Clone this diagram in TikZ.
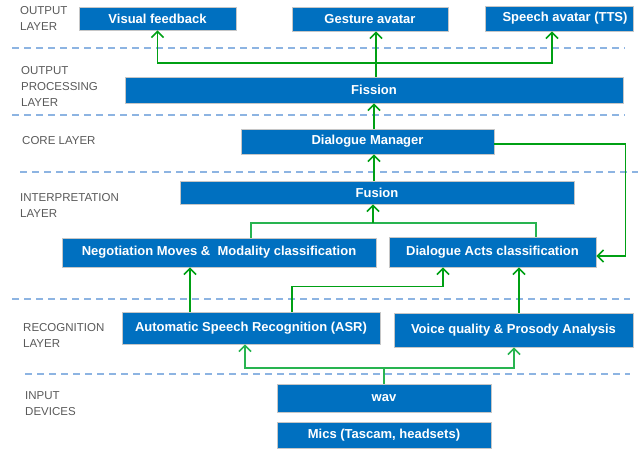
\documentclass[tikz,border=0pt]{standalone}
\usepackage{fontspec}
\setmainfont{Liberation Sans}
\usepackage{tikz}
\usetikzlibrary{arrows.meta}
\usetikzlibrary{calc}
\usepackage{xcolor}
\definecolor{boxblue}{RGB}{0,112,192}
\definecolor{flowgreen}{RGB}{0,160,20}
\definecolor{busgreen}{RGB}{40,180,80}
\definecolor{dashblue}{RGB}{141,180,226}
\definecolor{labelgray}{RGB}{89,89,89}

\begin{document}
\begin{tikzpicture}[x=1pt,y=-1pt,
  block/.style={fill=boxblue,draw=gray!45,line width=0.8pt,text=white,inner sep=0pt,
    font=\fontsize{13}{15}\selectfont\bfseries},
  layerlabel/.style={anchor=west,align=left,text=labelgray,inner sep=0pt,
    font=\fontsize{11.5}{16}\selectfont},
  divider/.style={draw=dashblue,line width=2pt,dash pattern=on 7pt off 5pt},
  flow/.style={draw=flowgreen,line width=1.6pt,-{Straight Barb[length=6pt,width=12pt]}},
  bus/.style={draw=busgreen,line width=1.6pt}]
\useasboundingbox (0,0) rectangle (638,449);

% layer names
\node[layerlabel] (lout) at (20,18) {OUTPUT\\LAYER};
\node[layerlabel] (lproc) at (21,86) {OUTPUT\\PROCESSING\\LAYER};
\node[layerlabel] (lcore) at (22,141) {CORE LAYER};
\node[layerlabel] (linter) at (20,205) {INTERPRETATION\\LAYER};
\node[layerlabel] (lrec) at (23,335) {RECOGNITION\\LAYER};
\node[layerlabel] (lin) at (25,404) {INPUT\\DEVICES};

% layer borders
\draw[divider] (12,48) -- (625,48);
\draw[divider] (12,115) -- (625,115);
\draw[divider] (20,172) -- (638,172);
\draw[divider] (12,299) -- (630,299);
\draw[divider] (25,374) -- (630,374);

% blocks
\node[block,minimum width=157pt,minimum height=23pt] (vis) at (157.5,18.5) {Visual feedback};
\node[block,minimum width=156pt,minimum height=24pt] (gest) at (370,19) {Gesture avatar};
\node[block,minimum width=148pt,minimum height=25pt] (tts) at (559,18.5) {\hspace*{12pt}Speech avatar (TTS)};
\node[block,minimum width=498pt,minimum height=26pt] (fis) at (374,90) {Fission};
\node[block,minimum width=253pt,minimum height=25pt] (dm) at (367.5,141.5) {Dialogue Manager};
\node[block,minimum width=394pt,minimum height=23pt] (fus) at (377,192.5) {Fusion};
\node[block,minimum width=314pt,minimum height=29pt] (neg) at (219,252.5) {Negotiation Moves \&\ \ Modality classification};
\node[block,minimum width=207pt,minimum height=30pt] (dac) at (492.5,252) {Dialogue Acts classification};
\node[block,minimum width=258pt,minimum height=32pt] (asr) at (251,328) {Automatic Speech Recognition (ASR)};
\node[block,minimum width=239pt,minimum height=34pt] (vqp) at (513.5,330) {Voice quality \& Prosody Analysis};
\node[block,minimum width=214pt,minimum height=28pt] (wav) at (384,398) {wav};
\node[block,minimum width=214pt,minimum height=26pt] (mics) at (384,435) {Mics (Tascam, headsets)};

% output
\coordinate (outsplit) at (376,63);
\draw[flow] (fis.north -| outsplit) -- (gest.south -| outsplit);
\draw[flow] (outsplit) -| (vis.south);
\draw[flow] (outsplit) -| ($(tts.south)+(-7,0)$);

% core
\draw[flow] (dm.north -| fis.south) -- (fis.south);
\draw[flow] (fus.north -| fis.south) -- (dm.south -| fis.south);
\draw[flow] ($(dm.east)+(0,2.5)$) -| ($(dac.east)+(29,4)$) -- ($(dac.east)+(0,4)$);

% interpretation
\coordinate (fusjoin) at (373,223);
\draw[bus] ($(neg.north)+(32,0)$) |- (fusjoin) -| ($(dac.north)+(43.5,0)$);
\draw[flow] (fusjoin) -- (fus.south -| fusjoin);

% recognition
\draw[flow] ($(asr.north)+(-61,0)$) -- ($(neg.south)+(-29,0)$);
\draw[flow] ($(asr.north)+(41,0)$) -- ++(0,-25) -| ($(dac.south)+(-49.5,0)$);
\draw[flow] ($(vqp.north)+(5.5,0)$) -- ($(dac.south)+(26.5,0)$);

% input
\coordinate (wavsplit) at (384,368);
\draw[bus] (wav.north) -- (wavsplit);
\draw[flow,draw=busgreen] (wavsplit) -| ($(asr.south)+(-6,0)$);
\draw[flow,draw=busgreen] (wavsplit) -| ($(vqp.south)+(0.5,0)$);
\end{tikzpicture}
\end{document}
